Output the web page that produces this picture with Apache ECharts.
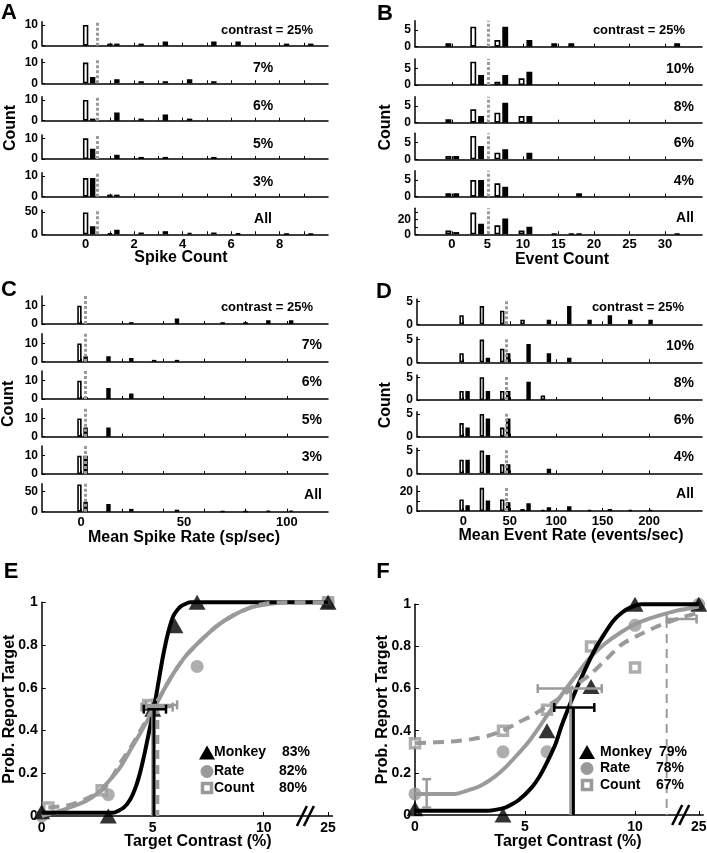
<!DOCTYPE html>
<html>
<head>
<meta charset="utf-8">
<title>Neural vs. behavioural detection</title>
<script src="https://cdn.jsdelivr.net/npm/echarts@6.0.0/dist/echarts.min.js"></script>
<style>
    html, body { margin: 0; padding: 0; background: #fff; }
    #chart { width: 707px; height: 853px; }
</style>
</head>
<body>
<div id="chart"></div>
<script>
var FONT = '"Liberation Sans", Arial, sans-serif';
var GRAY = '#9a9a9a';

// ---- A: spike count histograms (white = target absent, black = target present)
var aRowLabels = ['contrast = 25%', '7%', '6%', '5%', '3%', 'All'];
var aBins = [0, 1, 2, 3, 4, 5, 6, 7, 8, 9];
var aWhite = [
    [10, 1, 0, 0, 0, 0, 0, 0, 0, 0],
    [10, 0, 0, 0, 0, 0, 0, 0, 0, 0],
    [10, 0, 0, 0, 0, 0, 0, 0, 0, 0],
    [10, 0, 0, 0, 0, 0, 0, 0, 0, 0],
    [9, 1, 0, 0, 0, 0, 0, 0, 0, 0],
    [49, 2, 0, 0, 0, 0, 0, 0, 0, 0]
];
var aBlack = [
    [0, 1, 1, 2, 0, 2, 2, 0, 1, 1],
    [3, 2, 1, 1, 2, 1, 0, 0, 0, 0],
    [1, 4, 1, 3, 1, 0, 0, 0, 0, 0],
    [5, 2, 1, 1, 0, 1, 0, 0, 0, 0],
    [9, 1, 0, 0, 0, 0, 0, 0, 0, 0],
    [18, 10, 4, 7, 3, 4, 2, 0, 1, 1]
];
var aThreshold = 0.5;
var aXTicks = [0, 2, 4, 6, 8];
var aXMarks = [0, 1, 2, 3, 4, 5, 6, 7, 8, 9];
var aYTicks = [0, 10];
var aYTicksAll = [0, 50];

// ---- B: event count histograms
var bRowLabels = ['contrast = 25%', '10%', '8%', '6%', '4%', 'All'];
var bBins = [-0.5, 3, 6.4, 9.8, 13.3, 16.8, 20.2, 23.7, 27.1, 30.6];
var bWhite = [
    [1, 6, 2, 0, 0, 1, 0, 0, 0, 0],
    [0, 7, 1, 2, 0, 0, 0, 0, 0, 0],
    [1, 4, 3, 2, 0, 0, 0, 0, 0, 0],
    [1, 7, 2, 0, 0, 0, 0, 0, 0, 0],
    [1, 5, 4, 0, 0, 0, 0, 0, 0, 0],
    [5, 29, 12, 5, 0, 1, 0, 0, 0, 0]
];
var bBlack = [
    [0, 0, 6, 2, 1, 0, 0, 0, 0, 1],
    [0, 3, 3, 4, 0, 0, 0, 0, 0, 0],
    [0, 2, 6, 2, 0, 0, 0, 0, 0, 0],
    [1, 4, 3, 2, 0, 0, 0, 0, 0, 0],
    [1, 5, 3, 0, 0, 1, 0, 0, 0, 0],
    [3, 14, 21, 10, 1, 1, 0, 0, 0, 1]
];
var bThreshold = 5.1;
var bXTicks = [0, 5, 10, 15, 20, 25, 30];
var bYTicks = [0, 5];
var bYTicksAll = [0, 20];
var bYMarksAll = [0, 10, 20, 30];

// ---- C: mean spike rate histograms
var cRowLabels = ['contrast = 25%', '7%', '6%', '5%', '3%', 'All'];
var cBins = [-0.8, 10.3, 21.4, 32.5, 43.6, 54.7, 65.8, 76.9, 88, 99.1];
var cWhite = [
    [10, 0, 0, 0, 0, 0, 0, 0, 0, 0],
    [10, 0, 0, 0, 0, 0, 0, 0, 0, 0],
    [10, 0, 0, 0, 0, 0, 0, 0, 0, 0],
    [10, 0, 0, 0, 0, 0, 0, 0, 0, 0],
    [10, 0, 0, 0, 0, 0, 0, 0, 0, 0],
    [68, 0, 0, 0, 0, 0, 0, 0, 0, 0]
];
var cBlack = [
    [0, 0, 1, 0, 3, 0, 1, 1, 2, 2],
    [3, 3, 2, 1, 1, 0, 0, 0, 0, 0],
    [1, 6, 3, 0, 0, 0, 0, 0, 0, 0],
    [5, 5, 0, 0, 0, 0, 0, 0, 0, 0],
    [10, 0, 0, 0, 0, 0, 0, 0, 0, 0],
    [25, 19, 7, 0, 5, 0, 1, 1, 2, 2]
];
var cThreshold = 2;
var cXTicks = [0, 50, 100];
var cXMarks = [0, 20, 40, 60, 80, 100];
var cYTicks = [0, 10];
var cYTicksAll = [0, 50];

// ---- D: mean event rate histograms
var dRowLabels = ['contrast = 25%', '10%', '8%', '6%', '4%', 'All'];
var dBins = [-2, 19.9, 41.8, 63.7, 85.6, 107.5, 129.4, 151.3, 173.2, 195.1];
var dWhite = [
    [2, 4, 3, 1, 0, 0, 0, 0, 0, 0],
    [2, 5, 3, 0, 0, 0, 0, 0, 0, 0],
    [2, 5, 2, 0, 1, 0, 0, 0, 0, 0],
    [3, 5, 2, 0, 0, 0, 0, 0, 0, 0],
    [3, 5, 2, 0, 0, 0, 0, 0, 0, 0],
    [12, 24, 12, 2, 1, 0, 0, 0, 0, 0]
];
var dBlack = [
    [0, 0, 0, 0, 1, 4, 1, 2, 1, 1],
    [0, 1, 2, 4, 2, 1, 0, 0, 0, 0],
    [2, 2, 2, 4, 0, 0, 0, 0, 0, 0],
    [2, 4, 4, 0, 0, 0, 0, 0, 0, 0],
    [3, 4, 2, 0, 1, 0, 0, 0, 0, 0],
    [6, 11, 9, 8, 4, 5, 1, 2, 1, 1]
];
var dThreshold = 46;
var dXTicks = [0, 50, 100, 150, 200];
var dYTicks = [0, 5];
var dYTicksAll = [0, 20];
var dYMarksAll = [0, 10, 20];

// ---- E: psychometric data, session 1 (contrast 25 sits after the axis break)
var eMonkey = [[0, 0.02], [3, 0], [5, 0.5], [6, 0.89], [7, 1], [25, 1]];
var eRate = [[0, 0], [3, 0.1], [5, 0.52], [7, 0.7], [25, 1]];
var eCount = [[0.3, 0.04], [2.7, 0.12], [4.8, 0.52], [25, 1]];
var eMonkeyFit = [[0, 0.015], [3.2, 0.015], [3.7, 0.04], [4, 0.08], [4.25, 0.14], [4.45, 0.21], [4.65, 0.3],
    [4.85, 0.4], [5.05, 0.5], [5.25, 0.62], [5.45, 0.74], [5.7, 0.86], [5.95, 0.94], [6.25, 0.98], [6.7, 1], [25, 1]];
var eRateFit = [[0, 0], [1, 0.03], [2, 0.07], [2.5, 0.105], [3, 0.16], [3.55, 0.23], [4, 0.31], [4.45, 0.39],
    [5.05, 0.5], [5.5, 0.59], [5.95, 0.67], [6.5, 0.75], [7.15, 0.82], [7.9, 0.89], [8.65, 0.94], [9.4, 0.975],
    [10.1, 0.99], [11, 1], [25, 1]];
var eCountFit = [[0.3, 0.04], [1.2, 0.05], [2, 0.08], [2.7, 0.12], [3.1, 0.17], [3.55, 0.25], [4, 0.32], [4.45, 0.4],
    [5.05, 0.51], [5.5, 0.59], [5.95, 0.67], [6.5, 0.75], [7.15, 0.82], [7.9, 0.89], [8.65, 0.94], [9.4, 0.975],
    [10.1, 0.995], [11, 1], [25, 1]];
// thresholds and their error bars: monkey, rate, count
var eThreshX = [5.06, 5.0, 5.22];
var eThreshY = [0.5, 0.51, 0.52];
var eErrLo = [4.6, 4.5, 4.7];
var eErrHi = [5.6, 5.9, 6.1];
var eLegend = [['Monkey', '83%'], ['Rate', '82%'], ['Count', '80%']];

// ---- F: psychometric data, session 2
var fMonkey = [[0, 0.03], [4, 0], [6, 0.4], [8, 0.61], [10, 1], [25, 1]];
var fRate = [[0, 0.1], [4, 0.3], [6, 0.3], [10, 0.9], [25, 1]];
var fCount = [[0, 0.34], [4, 0.4], [6, 0.5], [8, 0.8], [10, 0.7]];
var fMonkeyFit = [[0, 0.02], [3.3, 0.02], [4.1, 0.035], [4.7, 0.07], [5.3, 0.13], [5.7, 0.19], [6.05, 0.26],
    [6.4, 0.34], [6.65, 0.42], [7.1, 0.54], [7.6, 0.66], [8.1, 0.77], [8.55, 0.85], [9, 0.92], [9.4, 0.96],
    [9.8, 0.985], [10.3, 1], [25, 1]];
var fRateFit = [[0, 0.1], [1.8, 0.1], [2.5, 0.12], [3, 0.14], [3.6, 0.18], [4.1, 0.225], [4.6, 0.28], [5.15, 0.345],
    [5.6, 0.41], [6.05, 0.48], [6.8, 0.59], [7.3, 0.66], [7.9, 0.74], [8.6, 0.81], [9.4, 0.87], [10.1, 0.91],
    [10.9, 0.94], [11.9, 0.97], [25, 0.99]];
var fCountFit = [[0, 0.34], [1.8, 0.35], [2.6, 0.36], [3.3, 0.375], [4, 0.4], [4.7, 0.44], [5.3, 0.47], [5.9, 0.51],
    [6.5, 0.55], [7.1, 0.6], [8, 0.67], [8.7, 0.74], [9.4, 0.81], [10.1, 0.85], [10.9, 0.89], [11.9, 0.93], [25, 0.96]];
var fThreshX = [7.2, 7.08, 11.44];
var fThreshY = [0.51, 0.6, 0.93];
var fErrLo = [6.33, 5.58, 11.44];
var fErrHi = [8.15, 8.49, 12.8];
var fRateErr0 = [0.53, 0.035, 0.17]; // x, low, high
var fLegend = [['Monkey', '79%'], ['Rate', '78%'], ['Count', '67%']];

var psyXTicks = [0, 5, 10, 25];
var psyYTicks = [0, 0.2, 0.4, 0.6, 0.8, 1];

// contrast 25% is drawn just after the axis break
var X25 = 12.9;
function sx(v) { return v >= 20 ? X25 : v; }
function mapPts(arr) { return arr.map(function (p) { return [sx(p[0]), p[1]]; }); }

var chart = echarts.init(document.getElementById('chart'));
var grids = [], xAxes = [], yAxes = [], series = [], graphics = [];

function txt(s, x, y, size, align, rot) {
    return {
        type: 'text', x: x, y: y, rotation: rot || 0, silent: true, z: 100,
        style: {
            text: s, font: 'bold ' + size + 'px ' + FONT, fill: '#000',
            textAlign: align || 'center', align: align || 'center',
            textVerticalAlign: 'middle', verticalAlign: 'middle'
        }
    };
}

var histPanels = [
    {letter: 'A', lx: 9, ly: 13, bins: aBins, white: aWhite, black: aBlack, rows: aRowLabels, thresh: aThreshold,
     xTicks: aXTicks, xMarks: aXMarks, yTicks: aYTicks, yTicksAll: aYTicksAll, yMarksAll: aYTicksAll,
     left: 42, width: 286, h: 24, base: [45.7, 83.3, 120.7, 159, 196.7, 234.3],
     xMin: -1.8, xMax: 10, yMax: 11.6, yMaxAll: 54, barW: 7, off: 0.29,
     labelX0: 267, labelX: 263, align: 'center', labelDy: 15,
     title: 'Spike Count', titleX: 181, titleY: 258, countX: 11},
    {letter: 'B', lx: 385, ly: 14, bins: bBins, white: bWhite, black: bBlack, rows: bRowLabels, thresh: bThreshold,
     xTicks: bXTicks, xMarks: bXTicks, yTicks: bYTicks, yTicksAll: bYTicksAll, yMarksAll: bYMarksAll,
     left: 415, width: 287, h: 26, base: [46.7, 85, 122.7, 159.3, 196.7, 234.3],
     xMin: -5.2, xMax: 35.2, yMax: 7.8, yMaxAll: 34.7, barW: 7.5, off: 1.1,
     labelX0: 685, labelX: 694, align: 'right', labelDy: 16,
     title: 'Event Count', titleX: 562, titleY: 260, countX: 386},
    {letter: 'C', lx: 9, ly: 290, bins: cBins, white: cWhite, black: cBlack, rows: cRowLabels, thresh: cThreshold,
     xTicks: cXTicks, xMarks: cXMarks, yTicks: cYTicks, yTicksAll: cYTicksAll, yMarksAll: cYTicksAll,
     left: 42, width: 286, h: 28, base: [324, 361.7, 399, 436.7, 474, 511.7],
     xMin: -19, xMax: 120, yMax: 15.3, yMaxAll: 70, barW: 6, off: 3,
     labelX0: 313, labelX: 322, align: 'right', labelDy: 17,
     title: 'Mean Spike Rate (sp/sec)', titleX: 184, titleY: 538, countX: 9},
    {letter: 'D', lx: 384, ly: 292, bins: dBins, white: dWhite, black: dBlack, rows: dRowLabels, thresh: dThreshold,
     xTicks: dXTicks, xMarks: dXTicks, yTicks: dYTicks, yTicksAll: dYTicksAll, yMarksAll: dYMarksAll,
     left: 417, width: 285, h: 25, base: [324.3, 362.3, 400, 436.7, 473.3, 511],
     xMin: -50, xMax: 257, yMax: 5.5, yMaxAll: 25.9, barW: 6, off: 6.5,
     labelX0: 684, labelX: 694, align: 'right', labelDy: 16.5,
     title: 'Mean Event Rate (events/sec)', titleX: 571, titleY: 536, countX: 386}
];

histPanels.forEach(function (p) {
    for (var r = 0; r < 6; r++) {
        var gi = grids.length;
        var last = r === 5;
        grids.push({left: p.left, top: p.base[r] - p.h, width: p.width, height: p.h,
            containLabel: false, outerBoundsMode: 'none'});
        xAxes.push({
            gridIndex: gi, type: 'value', min: p.xMin, max: p.xMax,
            axisLine: {show: true, onZero: false, lineStyle: {color: '#000', width: 1.5}},
            axisTick: {show: true, inside: true, length: 3, customValues: p.xMarks, lineStyle: {color: '#000', width: 1}},
            axisLabel: {show: last, customValues: p.xTicks, color: '#000', fontFamily: FONT,
                fontWeight: 'bold', fontSize: 13, margin: 4},
            splitLine: {show: false}
        });
        yAxes.push({
            gridIndex: gi, type: 'value', min: 0, max: last ? p.yMaxAll : p.yMax,
            axisLine: {show: true, onZero: false, lineStyle: {color: '#000', width: 1.5}},
            axisTick: {show: true, inside: true, length: 3, customValues: last ? p.yMarksAll : p.yTicks,
                lineStyle: {color: '#000', width: 1}},
            axisLabel: {show: true, customValues: last ? p.yTicksAll : p.yTicks, color: '#000', fontFamily: FONT,
                fontWeight: 'bold', fontSize: 12, margin: 4},
            splitLine: {show: false}
        });
        var w = [], b = [];
        p.bins.forEach(function (x, i) {
            if (p.white[r][i] > 0) w.push([x, p.white[r][i]]);
            if (p.black[r][i] > 0) b.push([x + p.off, p.black[r][i]]);
        });
        series.push({
            type: 'bar', xAxisIndex: gi, yAxisIndex: gi, data: w, barWidth: p.barW - 1.6, barGap: '-100%',
            itemStyle: {color: '#fff', borderColor: '#000', borderWidth: 1.6},
            markLine: {
                silent: true, symbol: ['none', 'none'], label: {show: false},
                lineStyle: {color: GRAY, width: 3, type: [3, 2]},
                data: [{xAxis: p.thresh}]
            }
        });
        series.push({
            type: 'bar', xAxisIndex: gi, yAxisIndex: gi, data: b, barWidth: p.barW - 1.6, barGap: '-100%',
            itemStyle: {color: '#000', borderColor: '#000', borderWidth: 1.6}
        });
        graphics.push(txt(p.rows[r], r === 0 ? p.labelX0 : p.labelX, p.base[r] - p.labelDy,
            r === 0 ? 13 : 14, p.align));
    }
    graphics.push(txt(p.title, p.titleX, p.titleY, 16));
    graphics.push(txt('Count', p.countX, (p.base[0] - p.h + p.base[5]) / 2, 16, 'center', Math.PI / 2));
    graphics.push(txt(p.letter, p.lx, p.ly, 22));
});

var psyPanels = [
    {letter: 'E', lx: 11, ly: 572, left: 41.7, top: 602.3, width: 290.8, height: 213.7,
     monkey: eMonkey, rate: eRate, count: eCount, monkeyFit: eMonkeyFit, rateFit: eRateFit, countFit: eCountFit,
     tx: eThreshX, ty: eThreshY, lo: eErrLo, hi: eErrHi, legend: eLegend, dashW: 3.5, breakX: 11.9,
     legX: 207, legY: [752.5, 771.5, 788], legText: 214, legPct: [310, 307, 307], titleX: 198, ylabX: 10},
    {letter: 'F', lx: 383, ly: 572, left: 415, top: 604.3, width: 288.2, height: 210.7,
     monkey: fMonkey, rate: fRate, count: fCount, monkeyFit: fMonkeyFit, rateFit: fRateFit, countFit: fCountFit,
     tx: fThreshX, ty: fThreshY, lo: fErrLo, hi: fErrHi, legend: fLegend, dashW: 2, breakX: 12.1,
     legX: 587, legY: [752, 768.5, 785], legText: 600, legPct: [687, 684, 684], titleX: 568, ylabX: 383,
     vErr: fRateErr0}
];

function lineSeries(gi, data, color, width, type, extra) {
    var s = {
        type: 'line', xAxisIndex: gi, yAxisIndex: gi, data: data, clip: false, silent: true,
        symbol: 'none', lineStyle: {color: color, width: width, type: type || 'solid'}
    };
    for (var k in extra) s[k] = extra[k];
    return s;
}

psyPanels.forEach(function (p) {
    var gi = grids.length;
    grids.push({left: p.left, top: p.top, width: p.width, height: p.height, containLabel: false, outerBoundsMode: 'none'});
    xAxes.push({
        gridIndex: gi, type: 'value', min: 0, max: 13.1,
        axisLine: {show: true, onZero: false, lineStyle: {color: '#000', width: 1.5}},
        axisTick: {show: true, inside: true, length: 4, customValues: psyXTicks.map(sx), lineStyle: {color: '#000'}},
        axisLabel: {show: true, customValues: psyXTicks.map(sx), color: '#000', fontFamily: FONT,
            fontWeight: 'bold', fontSize: 14, margin: 5,
            formatter: function (v) { return v > 12 ? '25' : String(v); }},
        splitLine: {show: false}
    });
    yAxes.push({
        gridIndex: gi, type: 'value', min: 0, max: 1,
        axisLine: {show: true, onZero: false, lineStyle: {color: '#000', width: 1.5}},
        axisTick: {show: true, inside: true, length: 4, customValues: psyYTicks, lineStyle: {color: '#000'}},
        axisLabel: {show: true, customValues: psyYTicks, color: '#000', fontFamily: FONT,
            fontWeight: 'bold', fontSize: 14, margin: 4},
        splitLine: {show: false}
    });

    // fitted curves
    series.push(lineSeries(gi, mapPts(p.rateFit), GRAY, 4, 'solid', {smooth: 0.2}));
    series.push(lineSeries(gi, mapPts(p.monkeyFit), '#000', 4, 'solid', {smooth: 0.2}));
    series.push(lineSeries(gi, mapPts(p.countFit), GRAY, 4, [11, 7], {smooth: 0.2}));

    // thresholds: count (dashed), rate, monkey
    var cols = ['#000', GRAY, GRAY];
    [2, 1, 0].forEach(function (k) {
        var type = k === 2 ? [9, 6] : 'solid';
        var wdt = k === 2 ? p.dashW : 3;
        series.push(lineSeries(gi, [[p.tx[k], p.ty[k]], [p.tx[k], 0]], cols[k], wdt, type));
    });
    [2, 1, 0].forEach(function (k) {
        series.push(lineSeries(gi, [[p.lo[k], p.ty[k]], [p.hi[k], p.ty[k]]], cols[k], 2.5, 'solid',
            {symbol: 'rect', symbolSize: [2.5, 9], showSymbol: true, itemStyle: {color: cols[k]}}));
    });
    if (p.vErr) {
        series.push(lineSeries(gi, [[p.vErr[0], p.vErr[1]], [p.vErr[0], p.vErr[2]]], GRAY, 2.5, 'solid',
            {symbol: 'rect', symbolSize: [9, 2.5], showSymbol: true, itemStyle: {color: GRAY}}));
    }

    // data points
    series.push({type: 'scatter', xAxisIndex: gi, yAxisIndex: gi, data: mapPts(p.rate), clip: false, silent: true,
        symbol: 'circle', symbolSize: 13, itemStyle: {color: GRAY}});
    series.push({type: 'scatter', xAxisIndex: gi, yAxisIndex: gi, data: mapPts(p.count), clip: false, silent: true,
        symbol: 'rect', symbolSize: 9, itemStyle: {color: '#fff', borderColor: GRAY, borderWidth: 3.5}});
    series.push({type: 'scatter', xAxisIndex: gi, yAxisIndex: gi, data: mapPts(p.monkey), clip: false, silent: true,
        symbol: 'triangle', symbolSize: [17, 15], itemStyle: {color: '#000'}});

    // legend
    var lx = p.legX, ly = p.legY;
    graphics.push({type: 'polygon', silent: true, z: 100,
        shape: {points: [[lx - 8, ly[0] + 7], [lx + 8, ly[0] + 7], [lx, ly[0] - 7]]}, style: {fill: '#000'}});
    graphics.push({type: 'circle', silent: true, z: 100, shape: {cx: lx, cy: ly[1], r: 6.5}, style: {fill: GRAY}});
    graphics.push({type: 'rect', silent: true, z: 100, shape: {x: lx - 4.5, y: ly[2] - 4.5, width: 9, height: 9},
        style: {fill: '#fff', stroke: GRAY, lineWidth: 3.5}});
    p.legend.forEach(function (item, i) {
        graphics.push(txt(item[0], p.legText, ly[i], 14, 'left'));
        graphics.push(txt(item[1], p.legPct[i], ly[i], 14, 'right'));
    });

    graphics.push(txt('Target Contrast (%)', p.titleX, 842, 16));
    graphics.push(txt('Prob. Report Target', p.ylabX, p.top + p.height / 2, 16, 'center', Math.PI / 2));
    graphics.push(txt(p.letter, p.lx, p.ly, 22));
});

chart.setOption({
    animation: false,
    backgroundColor: '#fff',
    textStyle: {fontFamily: FONT},
    grid: grids,
    xAxis: xAxes,
    yAxis: yAxes,
    series: series,
    graphic: {elements: graphics}
});

// axis-break marks, placed through the axis scales
psyPanels.forEach(function (p, i) {
    var pt = chart.convertToPixel({gridIndex: 24 + i}, [p.breakX, 0]);
    [-4, 3].forEach(function (dx) {
        graphics.push({type: 'line', silent: true, z: 100,
            shape: {x1: pt[0] + dx - 5, y1: pt[1] + 10, x2: pt[0] + dx + 5, y2: pt[1] - 10},
            style: {stroke: '#000', lineWidth: 2.5}});
    });
});
chart.setOption({graphic: {elements: graphics}});
</script>
</body>
</html>
